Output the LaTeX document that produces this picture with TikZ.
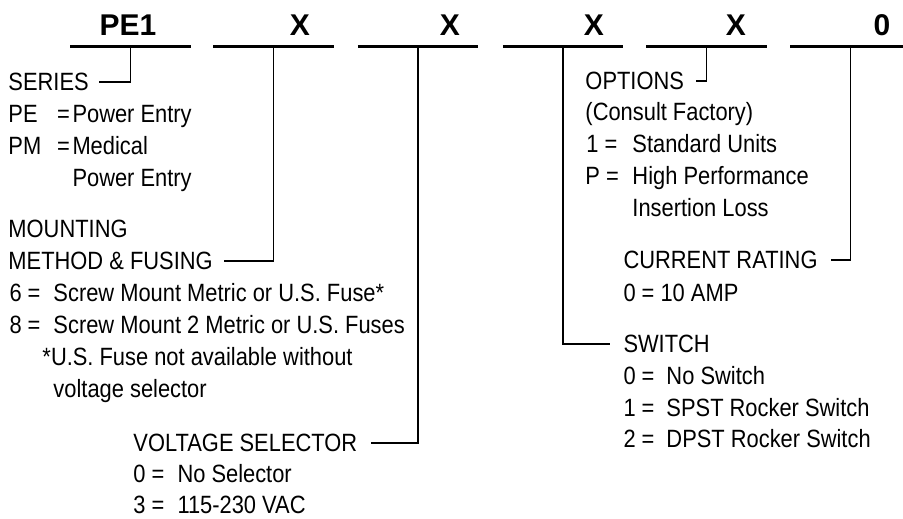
\documentclass[tikz,border=0pt]{standalone}
\usepackage{fontspec}
\setmainfont{Liberation Sans}[FakeStretch=0.875]
\newfontfamily\codefont{Liberation Sans}

\tikzset{
    txt/.style={anchor=base west,inner sep=0pt,text height=7.2pt,text depth=0pt,font=\fontsize{10pt}{12pt}\selectfont},
    code/.style={anchor=base,inner sep=0pt,font=\codefont\bfseries\fontsize{12pt}{14pt}\selectfont},
    field/.style={inner sep=0pt,minimum width=47.6pt,minimum height=0pt},
    bar/.style={line width=1.2pt},
    wire/.style={line width=0.65pt}
}

\begin{document}
\begin{tikzpicture}[x=0.4pt,y=-0.4pt]
    \useasboundingbox[fill=white] (0,0) rectangle (903,519);
    % part number
    \node[field] (f1) at (130.5,46.5) {};
    \node[field] (f2) at (273.5,46.5) {};
    \node[field] (f3) at (418,46.5) {};
    \node[field] (f4) at (563,46.5) {};
    \node[field] (f5) at (706.5,46.5) {};
    \node[field] (f6) at (850.5,46.5) {};
    \draw[bar] (f1.west) -- (f1.east);
    \draw[bar] (f2.west) -- (f2.east);
    \draw[bar] (f3.west) -- (f3.east);
    \draw[bar] (f4.west) -- (f4.east);
    \draw[bar] (f5.west) -- (f5.east);
    \draw[bar] (f6.west) -- (f6.east);
    \node[code] (c1) at (128,36) {PE1};
    \node[code] (c2) at (300,36) {X};
    \node[code] (c3) at (450,36) {X};
    \node[code] (c4) at (594,36) {X};
    \node[code] (c5) at (736,36) {X};
    \node[code] (c6) at (882,36) {0};
    % series
    \node[txt] (series) at (8,91) {SERIES};
    \node[txt] (pe) at (8,123) {PE};
    \node[txt] (peeq) at (56.5,123) {=};
    \node[txt] (pedesc) at (72,123) {Power Entry};
    \node[txt] (pm) at (8,155) {PM};
    \node[txt] (pmeq) at (56.5,155) {=};
    \node[txt] (pmdesc) at (72,155) {Medical};
    \node[txt] (pmdesc2) at (72,187) {Power Entry};
    % mounting
    \node[txt] (mount) at (8,238) {MOUNTING};
    \node[txt] (method) at (8,270) {METHOD \& FUSING};
    \node[txt] (m6) at (9,302) {6 =};
    \node[txt] (m6desc) at (53,302) {Screw Mount Metric or U.S. Fuse*};
    \node[txt] (m8) at (9,334) {8 =};
    \node[txt] (m8desc) at (53,334) {Screw Mount 2 Metric or U.S. Fuses};
    \node[txt] (note) at (42,366) {*U.S. Fuse not available without};
    \node[txt] (note2) at (53,398) {voltage selector};
    % voltage selector
    \node[txt] (volt) at (133,452) {VOLTAGE SELECTOR};
    \node[txt] (v0) at (133,483) {0 =};
    \node[txt] (v0desc) at (177,483) {No Selector};
    \node[txt] (v3) at (133,514) {3 =};
    \node[txt] (v3desc) at (177,514) {115-230 VAC};
    % options
    \node[txt] (opt) at (585,90) {OPTIONS};
    \node[txt] (consult) at (585,121) {(Consult Factory)};
    \node[txt] (o1) at (586,153) {1 =};
    \node[txt] (o1desc) at (632,153) {Standard Units};
    \node[txt] (oP) at (585,185) {P =};
    \node[txt] (oPdesc) at (632,185) {High Performance};
    \node[txt] (oPdesc2) at (632,217) {Insertion Loss};
    % current rating
    \node[txt] (cur) at (623,269) {CURRENT RATING};
    \node[txt] (c0) at (623,302) {0 = 10 AMP};
    % switch
    \node[txt] (sw) at (623,353) {SWITCH};
    \node[txt] (s0) at (623,385) {0 =};
    \node[txt] (s0desc) at (666,385) {No Switch};
    \node[txt] (s1) at (623,417) {1 =};
    \node[txt] (s1desc) at (666,417) {SPST Rocker Switch};
    \node[txt] (s2) at (623,448) {2 =};
    \node[txt] (s2desc) at (666,448) {DPST Rocker Switch};
    % leaders
    \draw[wire] (f1.center) |- ([xshift=4pt]series.east);
    \draw[wire] (f2.center) |- ([xshift=4.4pt]method.east);
    \draw[wire] (f3.center) |- ([xshift=5.2pt]volt.east);
    \draw[wire] (f4.center) |- ([xshift=-5.2pt]sw.west);
    \draw[wire] (f5.center) |- ([xshift=4.8pt]opt.east);
    \draw[wire] (f6.center) |- ([xshift=5pt]cur.east);
\end{tikzpicture}
\end{document}
